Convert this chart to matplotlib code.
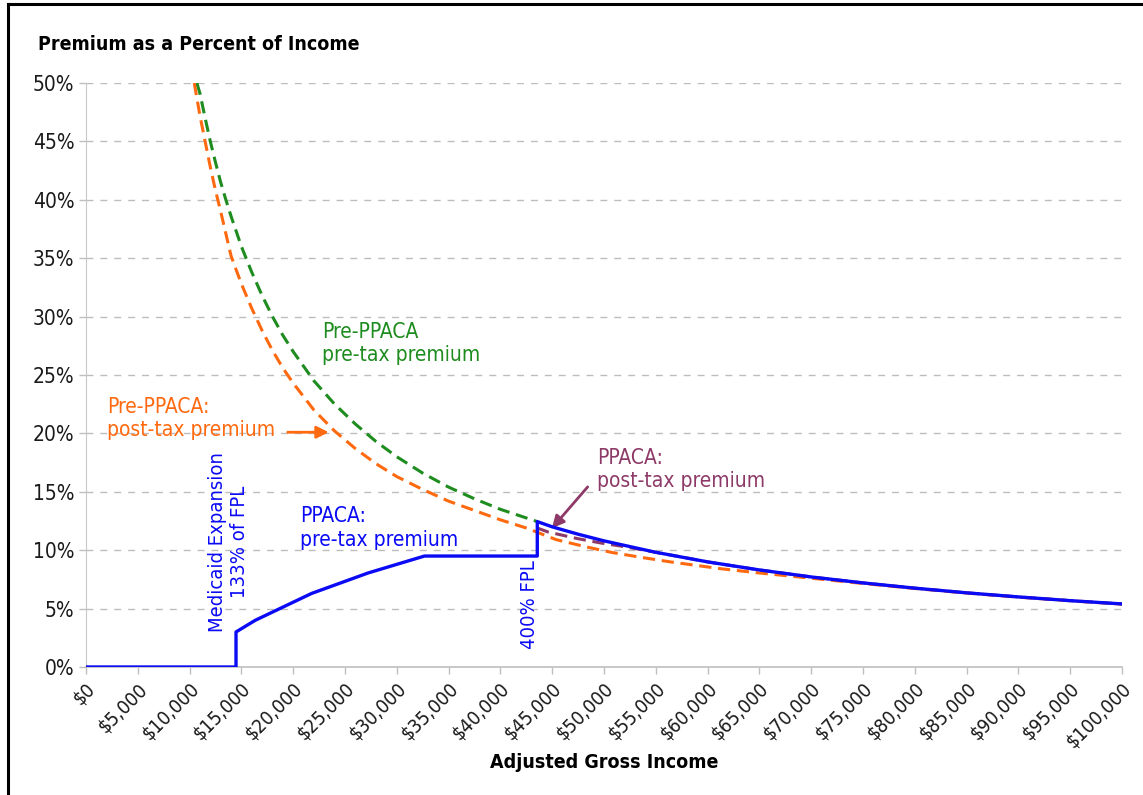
import matplotlib
matplotlib.use('Agg')
import matplotlib.pyplot as plt
from matplotlib import font_manager
from matplotlib.lines import Line2D
from matplotlib.ticker import FuncFormatter

# incomes in dollars, premiums in percent of income
green_income = [10700, 11000, 11500, 12000, 12500, 13000, 13500, 14000, 15000, 16000,
                17000, 18000, 19000, 20000, 22000, 24000, 26000, 28000, 30000, 32500,
                35000, 37500, 40000, 43560]
green_pct = [50.0, 49.1, 47.0, 45.0, 43.2, 41.5, 40.0, 38.6, 36.0, 33.8,
             31.8, 30.0, 28.4, 27.0, 24.5, 22.5, 20.8, 19.3, 18.0, 16.6,
             15.4, 14.4, 13.5, 12.45]

orange_income = [10450, 11000, 11500, 12000, 12500, 13000, 14000, 15000, 16000, 17000,
                 18000, 19000, 20000, 22000, 24000, 26000, 28000, 30000, 32500, 35000,
                 37500, 40000, 42500, 45400, 48200, 50800, 53500, 56400, 58900, 61400,
                 65000, 70000, 75000, 80000, 85000, 90000, 95000, 100000]
orange_pct = [50.0, 47.2, 45.0, 42.8, 40.8, 39.0, 35.2, 32.8, 30.7, 28.8,
              27.1, 25.6, 24.3, 22.0, 20.2, 18.7, 17.4, 16.3, 15.2, 14.2,
              13.4, 12.6, 11.9, 10.9, 10.3, 9.8, 9.4, 9.0, 8.7, 8.4,
              8.05, 7.6, 7.15, 6.72, 6.33, 5.98, 5.67, 5.38]

purple_income = [43560, 44600, 47400, 49800, 52000, 55000, 60000, 65000, 70000, 75000,
                 80000, 85000, 90000, 95000, 100000]
purple_pct = [11.9, 11.56, 11.0, 10.6, 10.3, 9.82, 9.0, 8.31, 7.71, 7.2,
              6.75, 6.35, 6.0, 5.68, 5.4]

blue_income = [0, 14480, 14480, 16340, 21780, 27230, 32670, 43560, 43560, 45000,
               47500, 50000, 55000, 60000, 65000, 70000, 75000, 80000, 85000, 90000,
               95000, 100000]
blue_pct = [0, 0, 3.0, 4.0, 6.3, 8.05, 9.5, 9.5, 12.45, 12.0,
            11.37, 10.8, 9.82, 9.0, 8.31, 7.71, 7.2, 6.75, 6.35, 6.0,
            5.68, 5.4]

x_ticks = list(range(0, 100001, 5000))
y_ticks = list(range(0, 51, 5))

GREEN = '#1e8c1e'
ORANGE = '#ff6a10'
BLUE = '#0a0af5'
PURPLE = '#8e3a68'

# condensed face if the system has one
stretch = 'normal'
fs = 12
cond = font_manager.findfont(font_manager.FontProperties(family='DejaVu Sans', stretch='condensed'))
if 'ondensed' in cond:
    stretch = 'condensed'
    fs = 14
plt.rcParams['font.family'] = ['DejaVu Sans']
plt.rcParams['font.stretch'] = stretch


def main():
    fig = plt.figure(figsize=(11.43, 7.95), dpi=100)
    ax = fig.add_axes([86 / 1143, 1 - 667 / 795, (1122 - 86) / 1143, (667 - 83) / 795])

    dash = (0, (4, 2.2))
    ax.plot(green_income, green_pct, color=GREEN, lw=2.2, linestyle=dash, zorder=3)
    ax.plot(orange_income, orange_pct, color=ORANGE, lw=2.2, linestyle=dash, zorder=3)
    ax.plot(purple_income, purple_pct, color=PURPLE, lw=2.2, linestyle=dash, zorder=3)
    ax.plot(blue_income, blue_pct, color=BLUE, lw=2.4, zorder=4)

    ax.set_xlim(0, 100000)
    ax.set_ylim(0, 50)
    ax.set_xticks(x_ticks)
    ax.set_yticks(y_ticks)
    ax.xaxis.set_major_formatter(FuncFormatter(lambda v, p: '${:,.0f}'.format(v)))
    ax.yaxis.set_major_formatter(FuncFormatter(lambda v, p: '{:.0f}%'.format(v)))
    plt.setp(ax.get_xticklabels(), rotation=45, ha='right', rotation_mode='anchor')
    ax.tick_params(axis='both', labelsize=fs, colors='#bfbfbf', labelcolor='#1a1a1a',
                   length=5, width=1)
    ax.tick_params(axis='y', labelsize=fs + 1)
    ax.tick_params(axis='x', pad=4)

    ax.grid(axis='y', color='#bdbdbd', linestyle=(0, (5, 5)), lw=1)
    ax.set_axisbelow(True)
    for s in ['top', 'right']:
        ax.spines[s].set_visible(False)
    ax.spines['left'].set_color('#c8c8c8')
    ax.spines['bottom'].set_color('#bfbfbf')
    ax.spines['bottom'].set_linewidth(1.2)

    ax.set_xlabel('Adjusted Gross Income', fontsize=fs, fontweight='bold', labelpad=1)
    fig.text(38 / 1143, 1 - 45 / 795, 'Premium as a Percent of Income', fontsize=fs,
             fontweight='bold', va='center', ha='left')

    # labels
    ax.text(22800, 27.7, 'Pre-PPACA\npre-tax premium', color=GREEN, fontsize=fs + 1,
            va='center', ha='left', linespacing=1.2)
    ax.text(2000, 21.3, 'Pre-PPACA:\npost-tax premium', color=ORANGE, fontsize=fs + 1,
            va='center', ha='left', linespacing=1.2)
    ax.annotate('', xy=(23700, 20.1), xytext=(19200, 20.1),
                arrowprops=dict(arrowstyle='-|>', color=ORANGE, lw=2, mutation_scale=18))
    ax.text(49300, 16.9, 'PPACA:\npost-tax premium', color=PURPLE, fontsize=fs + 1,
            va='center', ha='left', linespacing=1.2)
    ax.annotate('', xy=(44800, 11.7), xytext=(48600, 15.6),
                arrowprops=dict(arrowstyle='-|>', color=PURPLE, lw=2, mutation_scale=18))
    ax.text(20650, 11.9, 'PPACA:\npre-tax premium', color=BLUE, fontsize=fs + 1,
            va='center', ha='left', linespacing=1.2)
    ax.text(13800, 10.7, 'Medicaid Expansion\n133% of FPL', color=BLUE, fontsize=fs + 0.5,
            va='center', ha='center', rotation=90, linespacing=1.2, multialignment='center')
    ax.text(42850, 5.3, '400% FPL', color=BLUE, fontsize=fs + 0.5, va='center', ha='center',
            rotation=90)

    # frame lines at left and top of the picture
    fig.add_artist(Line2D([8 / 1143, 8 / 1143], [0, 1 - 4 / 795], color='black', lw=2.2))
    fig.add_artist(Line2D([8 / 1143, 1], [1 - 4 / 795, 1 - 4 / 795], color='black', lw=2.2))

    fig.savefig('out.png', dpi=100)


if __name__ == '__main__':
    main()
